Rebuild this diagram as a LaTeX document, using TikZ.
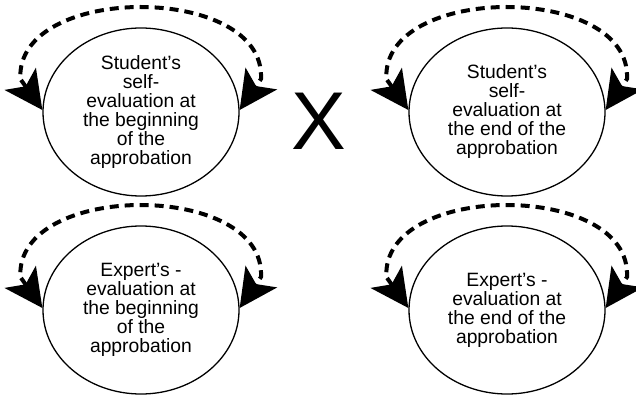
\documentclass[tikz,border=0pt]{standalone}
\usepackage{fontspec}
\setmainfont{Liberation Sans}
\usetikzlibrary{arrows.meta,shapes.geometric}
\begin{document}
\begin{tikzpicture}[x=1pt,y=-1pt,
  evalnode/.style={draw,line width=1.3pt,ellipse,minimum width=196pt,minimum height=168pt,inner sep=0pt,align=center,font=\fontsize{19.3pt}{19pt}\selectfont},
  loopline/.style={line width=4pt,dash pattern=on 9pt off 6pt,{Stealth[length=38pt,width=38pt,inset=9pt]}-{Stealth[length=38pt,width=38pt,inset=9pt]}}
]
\useasboundingbox (0,0) rectangle (636,395);
\node[evalnode] (a) at (141,112) {Student's\\self-\\evaluation at\\the beginning\\of the\\approbation};
\node[evalnode] (b) at (507,112) {Student's\\self-\\evaluation at\\the end of the\\approbation};
\node[evalnode] (c) at (141,310) {Expert's -\\evaluation at\\the beginning\\of the\\approbation};
\node[evalnode] (d) at (507,310) {Expert's -\\evaluation at\\the end of the\\approbation};
\node[font=\fontsize{82pt}{82pt}\selectfont,inner sep=0pt] (x) at (319,121) {X};
\foreach \n in {a,b,c,d}{
  \draw[loopline] ([shift={(0,-2)}]\n.west) -- ++(-22,-31) .. controls +(-5,-96) and +(5,-96) .. ([shift={(120,-33)}]\n.center) -- ([shift={(0,-2)}]\n.east);
}
\end{tikzpicture}
\end{document}
